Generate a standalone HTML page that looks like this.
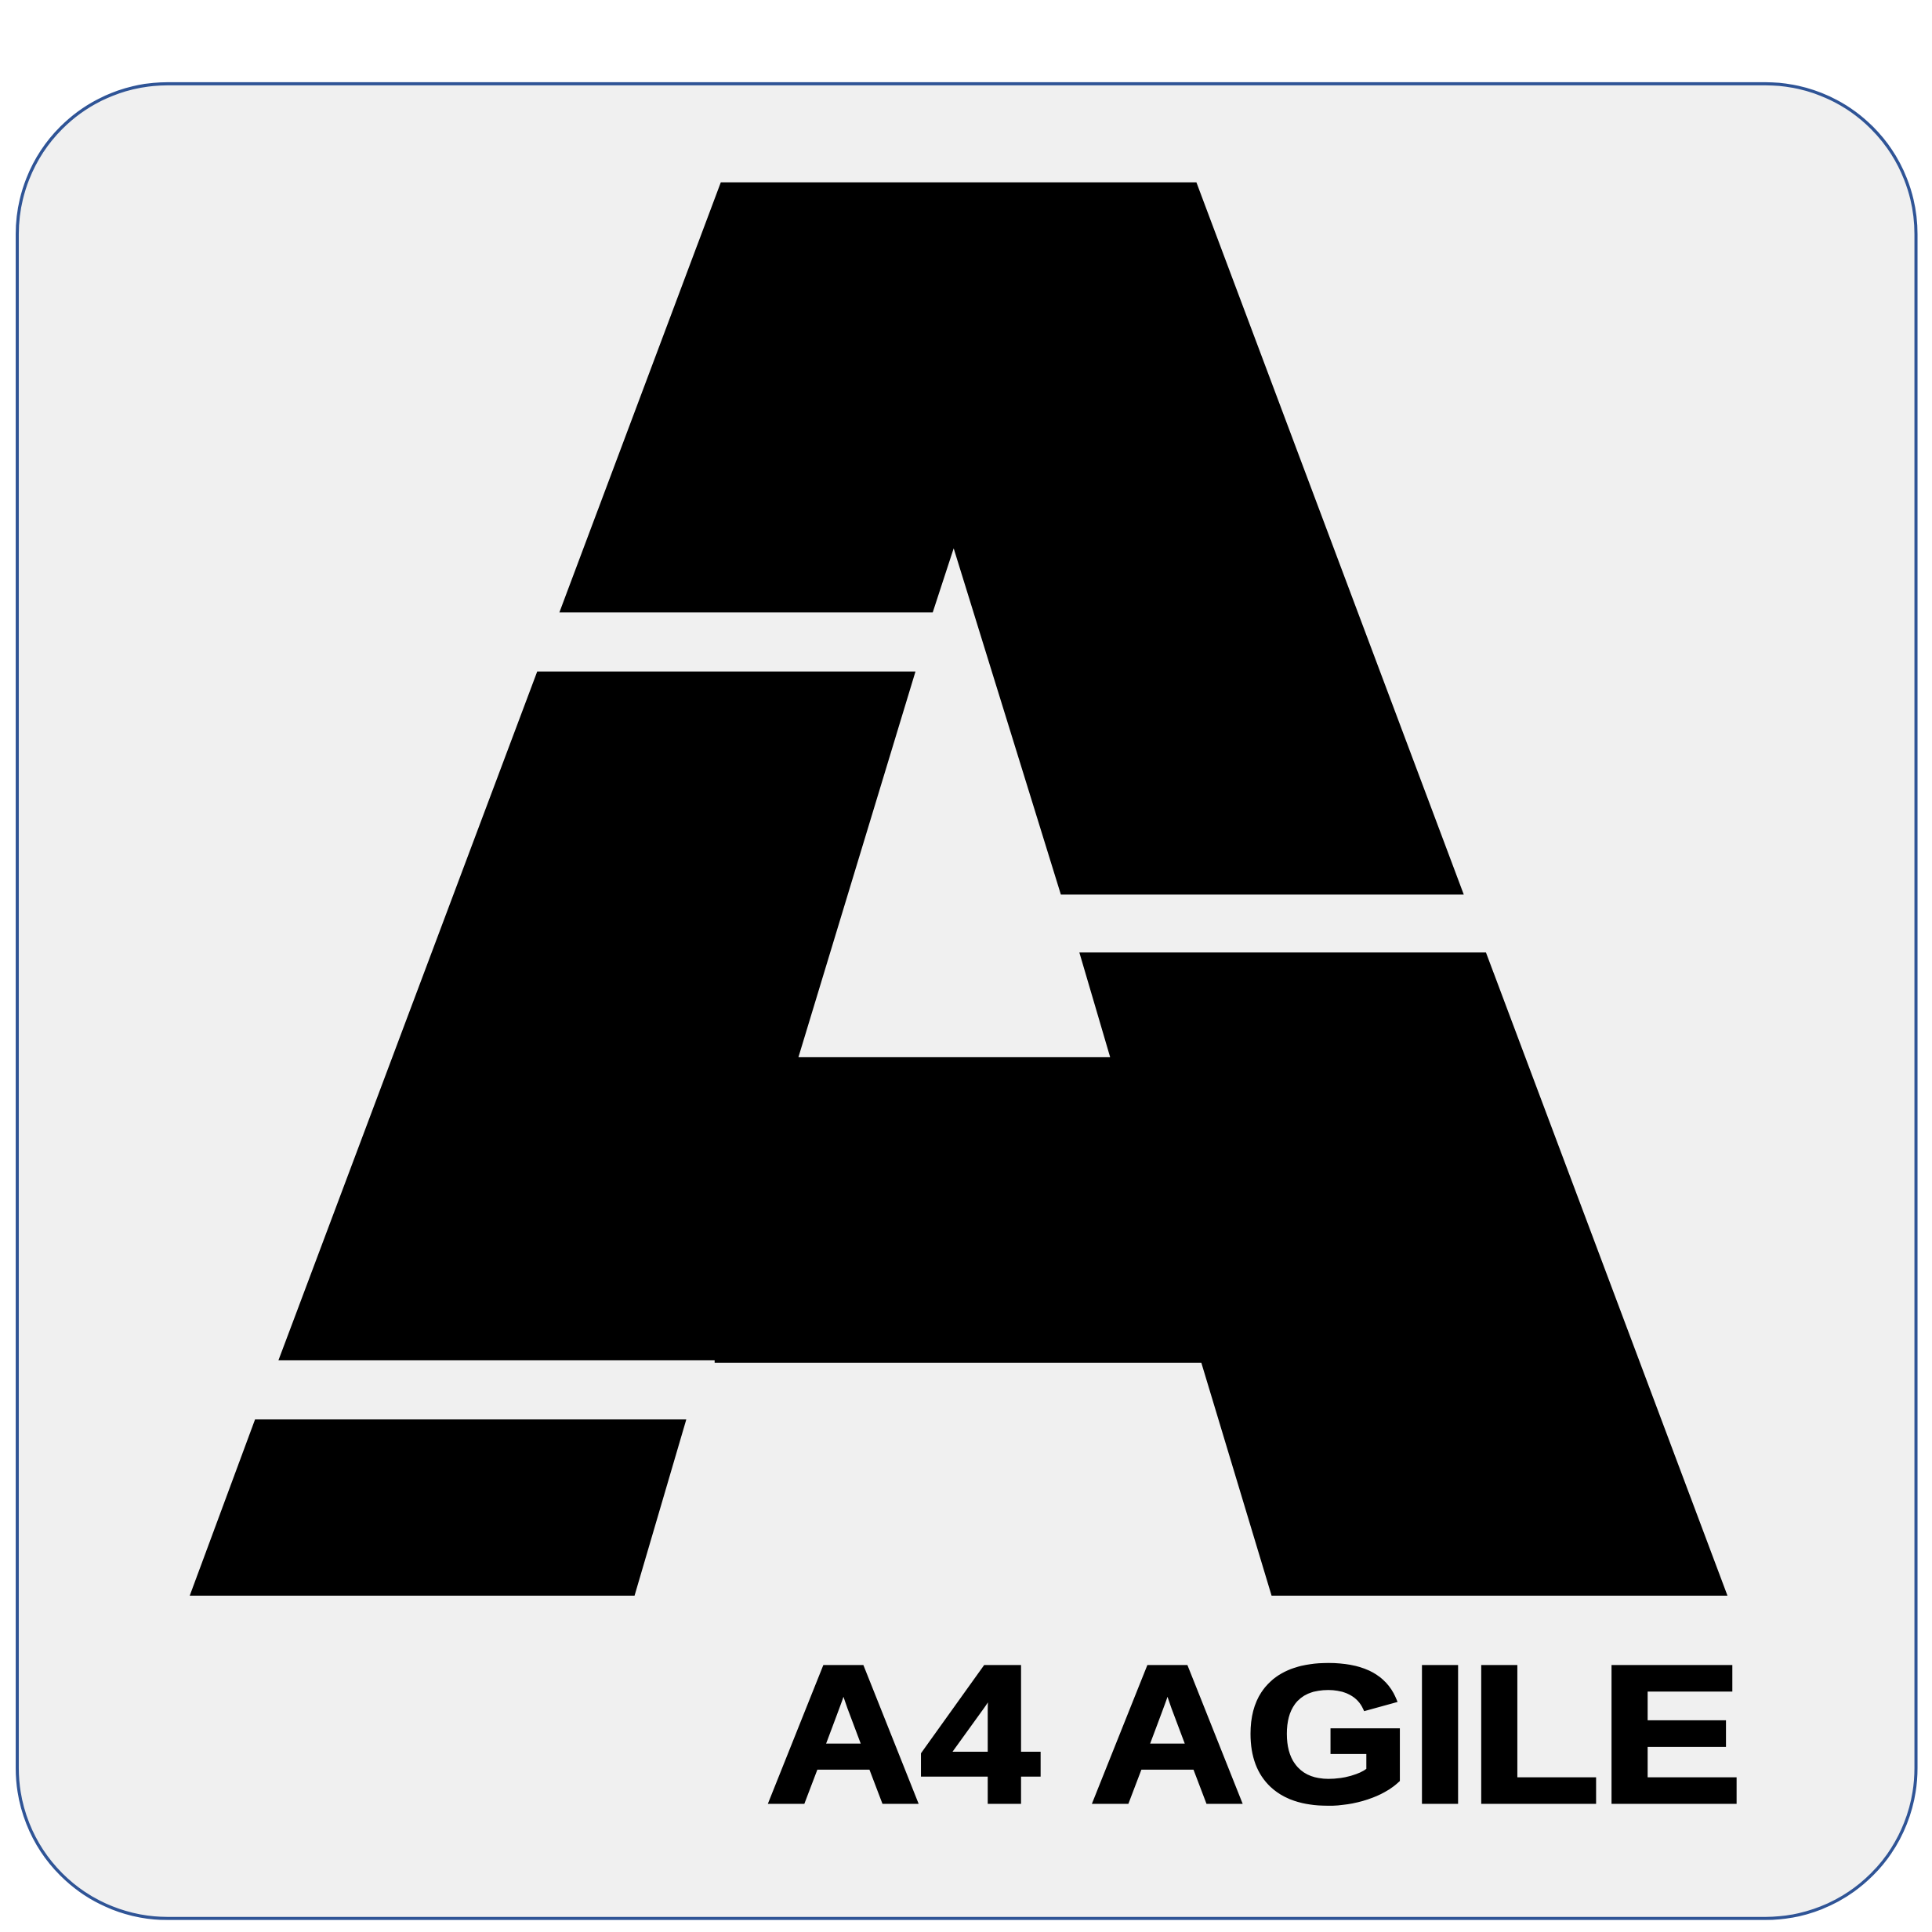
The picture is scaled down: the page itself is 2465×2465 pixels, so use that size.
<!DOCTYPE html>
<html>
<head>
<meta charset="utf-8">
<style>
html,body{margin:0;padding:0;background:#ffffff;}
svg{display:block;}
</style>
</head>
<body>
<svg width="2465" height="2465" viewBox="0 0 1568 1568" xmlns="http://www.w3.org/2000/svg">
  <rect x="14" y="68" width="1541" height="1489" rx="122" ry="122" fill="#f0f0f0" stroke="#2f5496" stroke-width="2.5"/>
  <polygon fill="#000" points="585,148 971,148 1188,726 861,726 774,445 757,497 454,497"/>
  <polygon fill="#000" points="436,545 743,545 648,858 901,858 876,773 1206,773 1402,1295 1032,1295 975,1106 580,1106 580,1104 226,1104"/>
  <polygon fill="#000" points="207,1152 557,1152 515,1295 154,1295"/>
  <text x="622" y="1462" font-family="'Liberation Sans', Arial, sans-serif" font-weight="bold" font-size="158" textLength="792" lengthAdjust="spacingAndGlyphs" fill="#000" stroke="#000" stroke-width="4" stroke-linejoin="miter">A4 AGILE</text>
</svg>
</body>
</html>
